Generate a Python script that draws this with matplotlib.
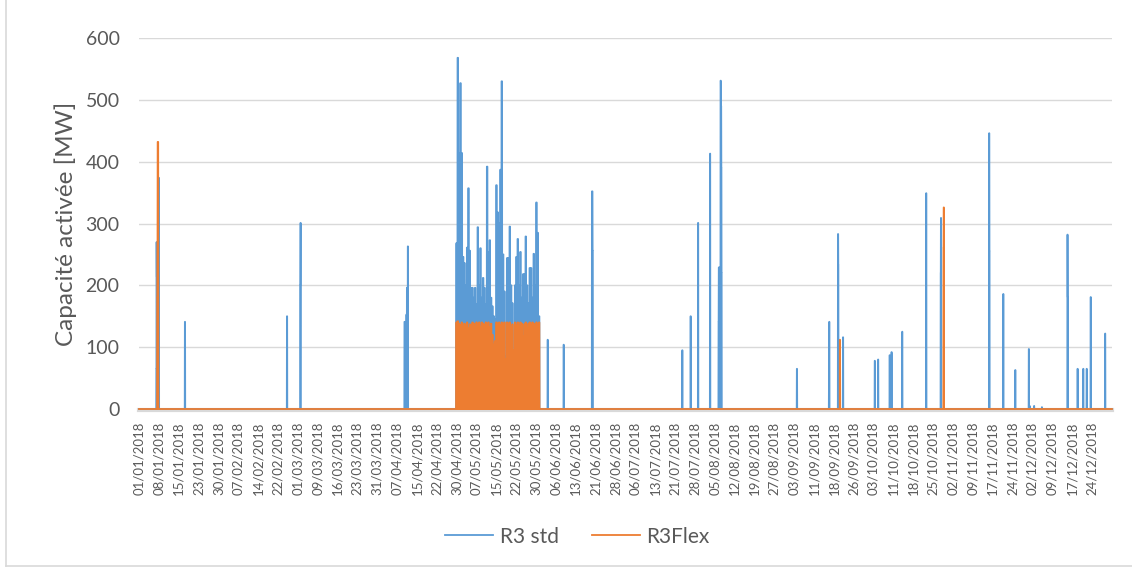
import matplotlib.pyplot as plt
import numpy as np
import pandas as pd
from matplotlib.lines import Line2D

plt.rcParams['font.family'] = ['Lato', 'DejaVu Sans']
GREY = '#595959'

# isolated activations R3 std: start, duration (h), MW
std_start = ["2018-01-07 12:00", "2018-01-07 14:00", "2018-01-07 16:00", "2018-01-08 10:00",
             "2018-01-18 05:00", "2018-02-25 12:00", "2018-03-02 12:00", "2018-03-02 14:00",
             "2018-04-10 14:00", "2018-04-11 08:00", "2018-04-11 12:00", "2018-04-11 20:00",
             "2018-06-03 07:00", "2018-06-09 07:00", "2018-06-19 22:00", "2018-06-20 04:00",
             "2018-07-23 19:00", "2018-07-26 22:00", "2018-07-29 17:00", "2018-08-03 05:00",
             "2018-08-06 10:00", "2018-08-06 12:00", "2018-08-07 04:00", "2018-08-07 08:00",
             "2018-08-07 11:00", "2018-08-07 13:00", "2018-09-04 19:00", "2018-09-16 20:00",
             "2018-09-16 22:00", "2018-09-20 05:00", "2018-09-20 08:00", "2018-09-22 02:00",
             "2018-10-04 00:00", "2018-10-05 06:00", "2018-10-09 14:00", "2018-10-10 07:00",
             "2018-10-14 07:00", "2018-10-23 07:00", "2018-10-28 18:00", "2018-10-28 20:00",
             "2018-11-15 22:00", "2018-11-16 01:00", "2018-11-21 05:00", "2018-11-25 17:00",
             "2018-11-30 19:00", "2018-12-01 03:00", "2018-12-02 19:00", "2018-12-05 17:00",
             "2018-12-15 07:00", "2018-12-15 08:00", "2018-12-15 10:00", "2018-12-19 02:00",
             "2018-12-21 05:00", "2018-12-22 12:00", "2018-12-24 00:00", "2018-12-29 10:00"]
std_hours = [2, 2, 2, 3, 3, 3, 2, 3, 6, 2, 2, 3, 3, 3, 6, 3, 3, 3, 3, 3, 2, 10, 4, 3, 2, 2,
             3, 2, 3, 3, 2, 3, 3, 3, 3, 3, 3, 3, 2, 3, 3, 2, 3, 3, 3, 2, 2, 2, 1, 2, 3, 3,
             3, 3, 3, 3]
std_mw = [65, 270, 214, 374, 141, 150, 200, 301, 141, 153, 196, 263, 112, 104, 352, 256,
          95, 150, 301, 413, 141, 229, 531, 490, 390, 220, 65, 47, 141, 283, 233, 116,
          78, 80, 87, 92, 125, 349, 220, 309, 446, 255, 186, 63, 97, 5, 5, 3,
          233, 282, 181, 65, 65, 65, 181, 122]

# isolated activations R3Flex
flex_start = ["2018-01-07 20:00", "2018-01-07 22:00", "2018-01-08 00:00",
              "2018-09-20 22:00", "2018-10-29 19:00", "2018-10-29 21:00"]
flex_hours = [2, 2, 6, 3, 2, 3]
flex_mw = [180, 270, 432, 112, 260, 326]

# continuous period 30/04 - 31/05: one peak value per half day,
# activated during the first 6 hours of each half day
block_start = "2018-04-30 00:00"
block_on_hours = 6
std_block = [268, 568, 414, 527, 414, 246, 236, 200, 261, 357, 256, 196, 196, 180, 196, 170,
             294, 200, 260, 180, 212, 196, 170, 392, 254, 273, 180, 166, 150, 145, 362, 318,
             300, 387, 530, 250, 190, 85, 244, 244, 295, 200, 171, 95, 200, 246, 275, 200,
             254, 180, 218, 218, 279, 200, 171, 228, 228, 180, 251, 200, 334, 285, 150]
flex_block = [140, 142, 138, 135, 140, 132, 138, 135, 140, 130, 137, 135, 140, 138, 132, 140,
              137, 140, 133, 140, 138, 135, 140, 137, 140, 132, 138, 120, 104, 110, 140, 138,
              140, 135, 140, 137, 140, 80, 140, 138, 140, 130, 137, 95, 140, 135, 140, 133,
              140, 138, 117, 137, 140, 130, 138, 140, 135, 140, 138, 132, 140, 137, 140]

# quarter-hour series (local time, starting 01:00)
t0 = pd.Timestamp("2018-01-01 01:00")
idx = pd.date_range(t0, periods=365 * 96, freq="15min")
q = pd.Timedelta(minutes=15)


def build(starts, hours, mws, block):
    s = pd.Series(0.0, index=idx)
    for w, h, v in zip(starts, hours, mws):
        a = pd.Timestamp(w)
        s[a:a + pd.Timedelta(hours=h) - q] = v
    b0 = pd.Timestamp(block_start)
    for i, v in enumerate(block):
        a = b0 + pd.Timedelta(hours=12 * i)
        s[a:a + pd.Timedelta(hours=block_on_hours) - q] = v
    return s


std = build(std_start, std_hours, std_mw, std_block)
flex = build(flex_start, flex_hours, flex_mw, flex_block)
x = np.arange(len(idx))

fig = plt.figure(figsize=(11.32, 5.71), dpi=100)
ax = fig.add_axes([0.1228, 0.2837, 0.8595, 0.6497])

for sp in ['top', 'right', 'left']:
    ax.spines[sp].set_visible(False)
ax.spines['bottom'].set_color('#d9d9d9')
ax.spines['bottom'].set_linewidth(3)
ax.spines['bottom'].set_position(('outward', 1))

ax.plot(x, std.values, color='#5B9BD5', lw=1.3, label='R3 std', clip_on=False, zorder=3)
ax.plot(x, flex.values, color='#ED7D31', lw=1.3, label='R3Flex', clip_on=False, zorder=4)

ax.set_xlim(0, len(idx))
ax.set_ylim(0, 600)
ax.set_yticks(np.arange(0, 601, 100))
ax.yaxis.grid(True, color='#d9d9d9', lw=1)
ax.set_axisbelow(True)

# excel category labels every 715 quarter-hours (49 labels)
tick_pos = np.arange(49) * 715
tick_lab = [idx[p].strftime('%d/%m/%Y') for p in tick_pos]
ax.set_xticks(tick_pos)
ax.set_xticklabels(tick_lab)
ax.tick_params(axis='both', length=0)
ax.tick_params(axis='x', pad=8, labelrotation=90, labelsize=9.5, labelcolor=GREY)
ax.tick_params(axis='y', labelsize=14, labelcolor=GREY, pad=14)

ax.set_ylabel('Capacité activée [MW]', fontsize=17.5, color=GREY, labelpad=6)

fig.legend(loc='center', bbox_to_anchor=(0.51, 0.06), ncol=2, frameon=False,
           fontsize=15, labelcolor=GREY, handlelength=2.3, columnspacing=1.6,
           handletextpad=0.3)

# chart area border
fig.add_artist(Line2D([0.005, 0.005], [0.009, 1.0], color='#d9d9d9', lw=1.2))
fig.add_artist(Line2D([0.005, 1.0], [0.009, 0.009], color='#d9d9d9', lw=1.2))

fig.savefig('out.png', dpi=100)
